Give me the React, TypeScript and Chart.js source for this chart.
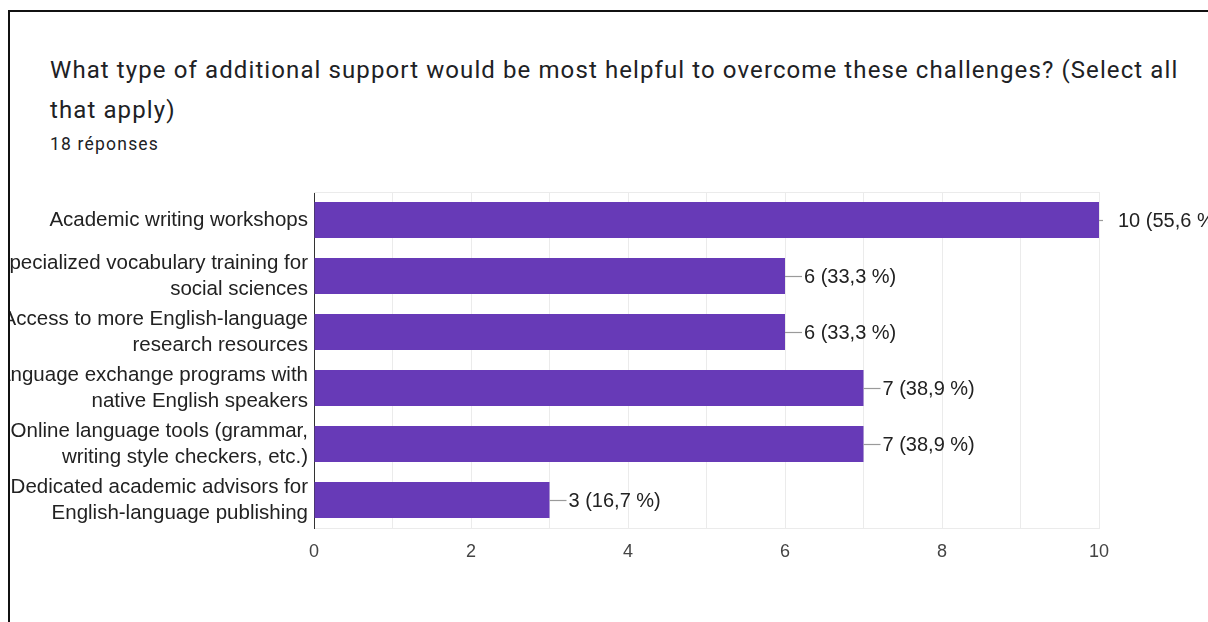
import React, { useEffect, useRef } from "react";
import { Chart, registerables } from "chart.js";

Chart.register(...registerables);

const titleLine1 =
  "What type of additional support would be most helpful to overcome these challenges? (Select all";
const titleLine2 = "that apply)";
const subtitle = "18 réponses";

const categories: string[][] = [
  ["Academic writing workshops"],
  ["Specialized vocabulary training for", "social sciences"],
  ["Access to more English-language", "research resources"],
  ["Language exchange programs with", "native English speakers"],
  ["Online language tools (grammar,", "writing style checkers, etc.)"],
  ["Dedicated academic advisors for", "English-language publishing"],
];
const counts = [10, 6, 6, 7, 7, 3];
const percentLabels = ["55,6", "33,3", "33,3", "38,9", "38,9", "16,7"];
const xTickLabels = [0, 2, 4, 6, 8, 10];

const LABEL_FONT = "'Liberation Sans', Arial, sans-serif";

const annotationPlugin = {
  id: "annotations",
  beforeDatasetsDraw(chart: any) {
    const { ctx, chartArea } = chart;
    ctx.save();
    ctx.strokeStyle = "#ebebeb";
    ctx.lineWidth = 1;
    ctx.beginPath();
    ctx.moveTo(chartArea.left, Math.round(chartArea.top) + 0.5);
    ctx.lineTo(chartArea.right, Math.round(chartArea.top) + 0.5);
    ctx.stroke();
    ctx.restore();
  },
  afterDatasetsDraw(chart: any) {
    const { ctx, chartArea } = chart;
    const meta = chart.getDatasetMeta(0);
    ctx.save();
    meta.data.forEach((el: any, i: number) => {
      const x = el.x;
      const y = Math.round(el.y) + 0.5;
      ctx.strokeStyle = "#9a9a9a";
      ctx.lineWidth = 1.2;
      ctx.beginPath();
      ctx.moveTo(x, y);
      ctx.lineTo(Math.min(x + 17, chartArea.right + 4), y);
      ctx.stroke();
      ctx.fillStyle = "#222222";
      ctx.font = `20px ${LABEL_FONT}`;
      ctx.textAlign = "left";
      ctx.textBaseline = "middle";
      ctx.fillText(`${counts[i]} (${percentLabels[i]} %)`, x + 19, el.y + 1);
    });
    ctx.restore();
  },
};

export default function App() {
  const canvasRef = useRef<HTMLCanvasElement | null>(null);

  useEffect(() => {
    const canvas = canvasRef.current;
    if (!canvas) return;
    const chart = new Chart(canvas, {
      type: "bar",
      data: {
        labels: categories,
        datasets: [
          {
            data: counts,
            backgroundColor: "#673ab7",
            borderWidth: 0,
            categoryPercentage: 0.643,
            barPercentage: 1,
          },
        ],
      },
      options: {
        indexAxis: "y",
        animation: false,
        responsive: false,
        devicePixelRatio: 1,
        layout: { padding: { left: 0, top: 22, right: 109, bottom: 42 } },
        plugins: {
          legend: { display: false },
          tooltip: { enabled: false },
          title: { display: false },
        },
        scales: {
          x: {
            type: "linear",
            min: 0,
            max: 10,
            afterFit: (scale: any) => {
              scale.height = 40;
              scale.paddingLeft = 0;
              scale.paddingRight = 0;
            },
            ticks: {
              stepSize: 1,
              autoSkip: false,
              maxRotation: 0,
              padding: 13,
              color: "#444444",
              font: { family: LABEL_FONT, size: 18 },
              callback: (v: any) => (xTickLabels.includes(Number(v)) ? String(v) : ""),
            },
            grid: {
              color: (ctx: any) => (ctx.tick && ctx.tick.value === 0 ? "rgba(0,0,0,0)" : "#ebebeb"),
              lineWidth: 1,
              drawTicks: false,
            },
            border: { color: "#ebebeb", width: 1 },
          },
          y: {
            type: "category",
            afterFit: (scale: any) => {
              scale.width = 304;
              scale.paddingTop = 0;
              scale.paddingBottom = 0;
            },
            ticks: {
              autoSkip: false,
              padding: 6,
              color: "#222222",
              font: { family: LABEL_FONT, size: 20.5, lineHeight: 1.27 },
            },
            grid: { display: true, color: "rgba(0,0,0,0)", drawTicks: false },
            border: { color: "#333333", width: 1 },
          },
        },
      },
      plugins: [annotationPlugin],
    } as any);
    return () => chart.destroy();
  }, []);

  const textColor = "#202124";
  return (
    <div
      style={{
        position: "absolute",
        left: 8,
        top: 10,
        width: 1200,
        height: 612,
        boxSizing: "border-box",
        borderTop: "2px solid #111",
        borderLeft: "2px solid #111",
        overflow: "hidden",
        background: "#fff",
      }}
    >
      <div
        style={{
          position: "absolute",
          left: 40,
          top: 44,
          whiteSpace: "nowrap",
          fontFamily: "Roboto, sans-serif",
          fontSize: 24,
          letterSpacing: "1.1px",
          lineHeight: "28px",
          color: textColor,
        }}
      >
        {titleLine1}
      </div>
      <div
        style={{
          position: "absolute",
          left: 40,
          top: 84,
          whiteSpace: "nowrap",
          fontFamily: "Roboto, sans-serif",
          fontSize: 24,
          letterSpacing: "1.1px",
          lineHeight: "28px",
          color: textColor,
        }}
      >
        {titleLine2}
      </div>
      <div
        style={{
          position: "absolute",
          left: 40,
          top: 122,
          whiteSpace: "nowrap",
          fontFamily: "Roboto, sans-serif",
          fontSize: 17.5,
          letterSpacing: "1.2px",
          lineHeight: "20px",
          color: textColor,
        }}
      >
        {subtitle}
      </div>
      <canvas
        ref={canvasRef}
        width={1198}
        height={440}
        style={{ position: "absolute", left: 0, top: 158, display: "block" }}
      />
    </div>
  );
}
